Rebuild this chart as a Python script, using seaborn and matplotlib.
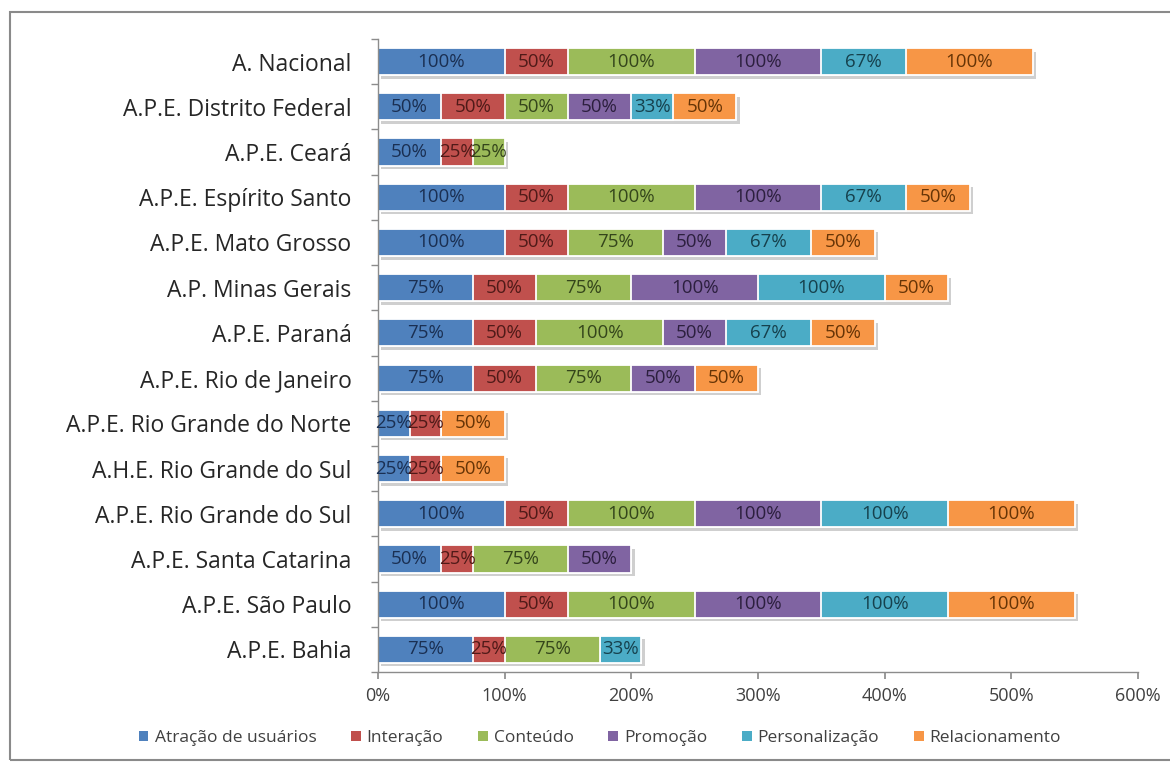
import matplotlib
matplotlib.use("Agg")
import matplotlib.pyplot as plt
import matplotlib.patheffects as pe
from matplotlib.patches import Patch, Rectangle
from matplotlib.ticker import FuncFormatter
import seaborn as sns
import pandas as pd
import numpy as np

categories = [
    "A. Nacional", "A.P.E. Distrito Federal", "A.P.E. Ceará", "A.P.E. Espírito Santo",
    "A.P.E. Mato Grosso", "A.P. Minas Gerais", "A.P.E. Paraná", "A.P.E. Rio de Janeiro",
    "A.P.E. Rio Grande do Norte", "A.H.E. Rio Grande do Sul", "A.P.E. Rio Grande do Sul",
    "A.P.E. Santa Catarina", "A.P.E. São Paulo", "A.P.E. Bahia",
]
series_names = ["Atração de usuários", "Interação", "Conteúdo", "Promoção",
                "Personalização", "Relacionamento"]
atracao = [100, 50, 50, 100, 100, 75, 75, 75, 25, 25, 100, 50, 100, 75]
interacao = [50, 50, 25, 50, 50, 50, 50, 50, 25, 25, 50, 25, 50, 25]
conteudo = [100, 50, 25, 100, 75, 75, 100, 75, 0, 0, 100, 75, 100, 75]
promocao = [100, 50, 0, 100, 50, 100, 50, 50, 0, 0, 100, 50, 100, 0]
personalizacao = [67, 33, 0, 67, 67, 100, 67, 0, 0, 0, 100, 0, 100, 33]
relacionamento = [100, 50, 0, 50, 50, 50, 50, 50, 50, 50, 100, 0, 100, 0]
x_ticks = [0, 100, 200, 300, 400, 500, 600]

colors = ["#4F81BD", "#C0504D", "#9BBB59", "#8064A2", "#4BACC6", "#F79646"]
text_colors = ["#1A2F52", "#4F1A18", "#34451B", "#2C1F3E", "#16414D", "#663406"]

series = [atracao, interacao, conteudo, promocao, personalizacao, relacionamento]
df = pd.DataFrame({"cat": categories})
for name, vals in zip(series_names, series):
    df[name] = vals
cum = df[series_names].cumsum(axis=1)
for name in series_names:
    df["cum_" + name] = cum[name]

sns.set_theme(style="white")
plt.rcParams["font.family"] = ["Open Sans", "DejaVu Sans"]

fig = plt.figure(figsize=(11.7, 7.62), dpi=100)
ax = fig.add_axes([378 / 1170, 1 - 672 / 762, (1138 - 378) / 1170, (672 - 39) / 762])

# draw cumulative bars from last series to first
for i in range(len(series_names) - 1, -1, -1):
    name = series_names[i]
    n_before = len(ax.patches)
    sns.barplot(data=df, x="cum_" + name, y="cat", orient="h", color=colors[i],
                width=0.6, edgecolor="white", linewidth=1.3, ax=ax, saturation=1)
    if i == len(series_names) - 1:
        for p in ax.patches[n_before:]:
            p.set_path_effects([pe.SimplePatchShadow(offset=(2.5, -2.5), shadow_rgbFace="#888888", alpha=0.4),
                                pe.Normal()])

# labels
for i, name in enumerate(series_names):
    for j, v in enumerate(df[name]):
        if v <= 0:
            continue
        center = df["cum_" + name][j] - v / 2
        ax.text(center, j, f"{v}%", ha="center", va="center", fontsize=13.5,
                color=text_colors[i])

ax.set_xlim(0, 600)
ax.set_ylim(len(categories) - 0.5, -0.5)
ax.set_xticks(x_ticks)
ax.xaxis.set_major_formatter(FuncFormatter(lambda v, p: f"{int(v)}%"))
ax.set_xlabel("")
ax.set_ylabel("")

for s in ["top", "right"]:
    ax.spines[s].set_visible(False)
for s in ["left", "bottom"]:
    ax.spines[s].set_color("#8C8C8C")
    ax.spines[s].set_linewidth(1.0)

ax.tick_params(axis="x", which="major", direction="out", length=5, color="#8C8C8C",
               labelsize=13, labelcolor="#404040", pad=6, bottom=True)
ax.tick_params(axis="y", which="major", length=0, labelsize=16.5, labelcolor="#262626", pad=19)
ax.set_yticks(np.arange(len(categories) + 1) - 0.5, minor=True)
ax.tick_params(axis="y", which="minor", direction="out", length=5, color="#8C8C8C", left=True)

handles = [Patch(facecolor=c, edgecolor="none") for c in colors]
fig.legend(handles, series_names, loc="center", bbox_to_anchor=(600 / 1170, 1 - 738 / 762),
           ncol=6, frameon=False, fontsize=12.5, handlelength=0.55, handleheight=0.55,
           handletextpad=0.35, columnspacing=2.0, labelcolor="#404040")

fig.patches.append(Rectangle((10 / 1170, 1 - 760 / 762), 1.2, (760 - 12) / 762,
                             transform=fig.transFigure, fill=False, edgecolor="#8A8A8A",
                             linewidth=1.5, zorder=0))

fig.savefig("out.png", dpi=100)
